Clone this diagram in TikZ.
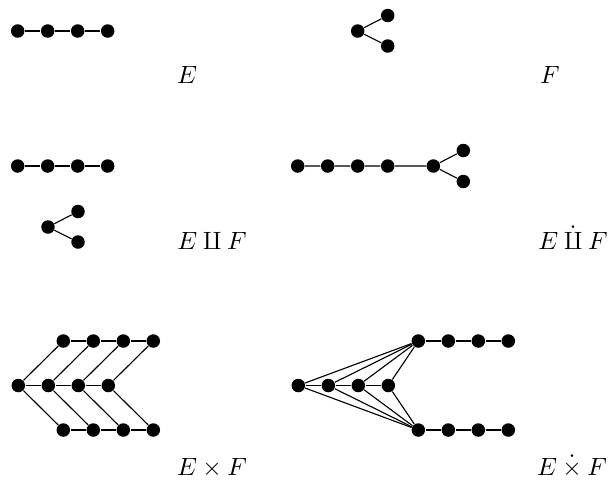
\documentclass[tikz,border=0pt]{standalone}
\begin{document}
\begin{tikzpicture}[x=0.4pt,y=-0.4pt,
  dot/.style={circle,fill=black,inner sep=0pt,minimum size=5.4pt},
  edge/.style={draw=black,line width=0.45pt},
  lab/.style={anchor=base,inner sep=0pt}]
\useasboundingbox (0,0) rectangle (610,481);
% ---- E ----
\foreach \i/\x in {1/17.7,2/47.7,3/77.7,4/107.7}{\node[dot] (a\i) at (\x,31) {};}
\draw[edge] (a1)--(a2) (a2)--(a3) (a3)--(a4);
\node[lab] (lE) at (187,83) {$E$};
% ---- F ----
\node[dot] (f0) at (357.7,31) {};
\node[dot] (f1) at (387.7,15.5) {};
\node[dot] (f2) at (387.7,46) {};
\draw[edge] (f0)--(f1) (f0)--(f2);
\node[lab] (lF) at (550,83) {$F$};
% ---- E amalg F ----
\foreach \i/\x in {1/17.7,2/47.7,3/77.7,4/107.7}{\node[dot] (b\i) at (\x,166) {};}
\draw[edge] (b1)--(b2) (b2)--(b3) (b3)--(b4);
\node[dot] (g0) at (48,227) {};
\node[dot] (g1) at (78,211.5) {};
\node[dot] (g2) at (78,242) {};
\draw[edge] (g0)--(g1) (g0)--(g2);
\node[lab] (lEF) at (212,249) {$E\amalg F$};
% ---- E dot-amalg F ----
\foreach \i/\x in {1/297.7,2/327.7,3/357.7,4/387.7}{\node[dot] (c\i) at (\x,166) {};}
\node[dot] (h0) at (433.3,166) {};
\node[dot] (h1) at (463.3,150.5) {};
\node[dot] (h2) at (463.3,181.5) {};
\draw[edge] (c1)--(c2) (c2)--(c3) (c3)--(c4) (c4)--(h0) (h0)--(h1) (h0)--(h2);
\node[lab] (lEdF) at (573,249) {$E\mathbin{\dot{\amalg}}F$};
% ---- E times F ----
\foreach \i/\x in {1/18.3,2/48.3,3/78.3,4/108.3}{\node[dot] (m\i) at (\x,385.5) {};}
\foreach \i/\x in {1/63.3,2/93.3,3/123.3,4/153.3}{
  \node[dot] (t\i) at (\x,341) {};
  \node[dot] (u\i) at (\x,430) {};}
\draw[edge] (m1)--(m2) (m2)--(m3) (m3)--(m4)
  (t1)--(t2) (t2)--(t3) (t3)--(t4)
  (u1)--(u2) (u2)--(u3) (u3)--(u4);
\foreach \i in {1,2,3,4}{\draw[edge] (m\i)--(t\i) (m\i)--(u\i);}
\node[lab] (lExF) at (212,475) {$E\times F$};
% ---- E dot-times F ----
\foreach \i/\x in {1/298.3,2/328.3,3/358.3,4/388.3}{\node[dot] (n\i) at (\x,385.5) {};}
\foreach \i/\x in {1/418.3,2/448.3,3/478.3,4/508.3}{
  \node[dot] (p\i) at (\x,341) {};
  \node[dot] (q\i) at (\x,430) {};}
\draw[edge] (n1)--(n2) (n2)--(n3) (n3)--(n4)
  (p1)--(p2) (p2)--(p3) (p3)--(p4)
  (q1)--(q2) (q2)--(q3) (q3)--(q4);
\foreach \i in {1,2,3,4}{\draw[edge] (n\i)--(p1) (n\i)--(q1);}
\node[lab] (lEdxF) at (572,475) {$E\mathbin{\dot{\times}}F$};
\end{tikzpicture}
\end{document}
